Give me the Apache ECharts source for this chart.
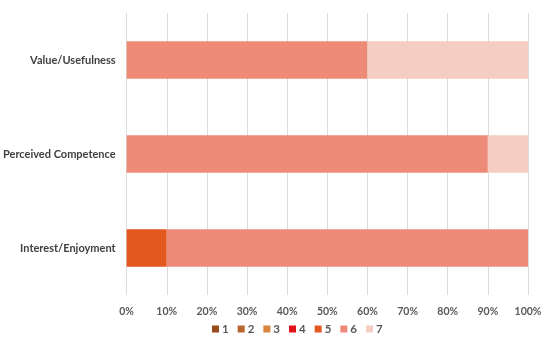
<!DOCTYPE html>
<html><head><meta charset="utf-8">
<script src="https://cdn.jsdelivr.net/npm/echarts@6/dist/echarts.min.js"></script>
<style>html,body{margin:0;padding:0;background:#fff}#c{width:550px;height:347px}</style>
</head><body><div id="c"></div>
<script>
const categories = ['Interest/Enjoyment', 'Perceived Competence', 'Value/Usefulness'];
const seriesNames = ['1', '2', '3', '4', '5', '6', '7'];
const s1 = [0, 0, 0];
const s2 = [0, 0, 0];
const s3 = [0, 0, 0];
const s4 = [0, 0, 0];
const s5 = [10, 0, 0];
const s6 = [90, 90, 60];
const s7 = [0, 10, 40];
const colors = ['#9a4b1c', '#b8642c', '#d9843f', '#e0121a', '#e2581e', '#ee8a78', '#f6cdc2'];
const allData = [s1, s2, s3, s4, s5, s6, s7];

const chart = echarts.init(document.getElementById('c'));
chart.setOption({
  animation: false,
  color: colors,
  grid: { left: 125, right: 22, top: 13, bottom: 52, containLabel: false },
  legend: {
    data: seriesNames,
    left: 207, bottom: 7,
    itemWidth: 7, itemHeight: 7, itemGap: 9,
    icon: 'rect',
    textStyle: { fontFamily: 'Lato', fontSize: 11.5, fontWeight: 'bold', color: '#595959', padding: [0, 0, 0, -2] }
  },
  xAxis: {
    type: 'value', min: 0, max: 100, interval: 10,
    axisLine: { show: false }, axisTick: { show: false },
    splitLine: { lineStyle: { color: '#dcdcdc', width: 1 } },
    axisLabel: { formatter: '{value}%', margin: 11, fontFamily: 'Lato', fontSize: 10.5, fontWeight: 'bold', color: '#595959' }
  },
  yAxis: {
    type: 'category', data: categories,
    axisLine: { show: false }, axisTick: { show: false },
    axisLabel: { margin: 11, fontFamily: 'Lato', fontSize: 11, fontWeight: 'bold', color: '#404040' }
  },
  series: seriesNames.map((n, i) => ({
    name: n, type: 'bar', stack: 'total', barWidth: '40%',
    data: allData[i]
  }))
});
</script></body></html>
